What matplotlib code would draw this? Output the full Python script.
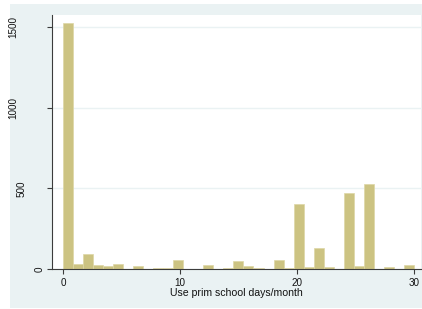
import numpy as np
import matplotlib.pyplot as plt
from matplotlib.patches import Rectangle
from matplotlib.transforms import ScaledTranslation

plt.rcParams['font.family'] = ['Liberation Sans', 'DejaVu Sans']

# histogram: 35 bins over 0..30 (frequency)
bin_start = 0.0
bin_end = 30.0
counts = [1525, 32, 90, 25, 20, 31, 0, 16, 0, 7,
          5, 55, 2, 0, 25, 0, 4, 48, 16, 6,
          0, 56, 4, 400, 10, 130, 12, 0, 470, 18,
          525, 0, 12, 0, 27]
xticks = [0, 10, 20, 30]
yticks = [0, 500, 1000, 1500]
xlabel = 'Use prim school days/month'

bg = '#eaf2f3'
khaki = '#ccc382'

fig = plt.figure(figsize=(4.22, 3.09), dpi=100)
fig.patch.set_facecolor('white')
# stata style outer region
fig.patches.append(Rectangle((10 / 422, 1 / 309), 412 / 422, 304 / 309,
                             transform=fig.transFigure, facecolor=bg,
                             edgecolor='none', zorder=-5))

ax = fig.add_axes([52 / 422, 40 / 309, 369 / 422, 254 / 309])
ax.set_facecolor('white')

nb = len(counts)
w = (bin_end - bin_start) / nb
edges = bin_start + w * np.arange(nb)
ax.bar(edges, counts, width=w, align='edge', color=khaki,
       edgecolor='#ddd6a6', linewidth=0.5, zorder=2)

ax.set_xlim(-0.97, 30.63)
ax.set_ylim(0, 1574)
ax.set_xticks(xticks)
ax.set_yticks(yticks)
ax.grid(axis='y', color=bg, linewidth=1.0, zorder=0)
ax.set_axisbelow(True)

for s in ['top', 'right']:
    ax.spines[s].set_visible(False)
for s in ['left', 'bottom']:
    ax.spines[s].set_color('#3c3c3c')
    ax.spines[s].set_linewidth(0.8)

ax.tick_params(axis='both', length=3.6, width=0.8, color='#3c3c3c',
               labelsize=7.1, labelcolor='#111111')
ax.tick_params(axis='x', pad=2.6)
ax.tick_params(axis='y', pad=5.0)

ax.set_yticklabels([str(v) for v in yticks], rotation=90, ha='center', va='center')
fig.canvas.draw()
for lab in ax.get_yticklabels():
    n = len(lab.get_text())
    dx = -(n - 1) * 9 / 100
    lab.set_transform(lab.get_transform() + ScaledTranslation(dx, 0, fig.dpi_scale_trans))

ax.set_xlabel(xlabel, fontsize=7.6, labelpad=0.3, color='#111111')

fig.savefig('out.png', dpi=100, facecolor='white')
